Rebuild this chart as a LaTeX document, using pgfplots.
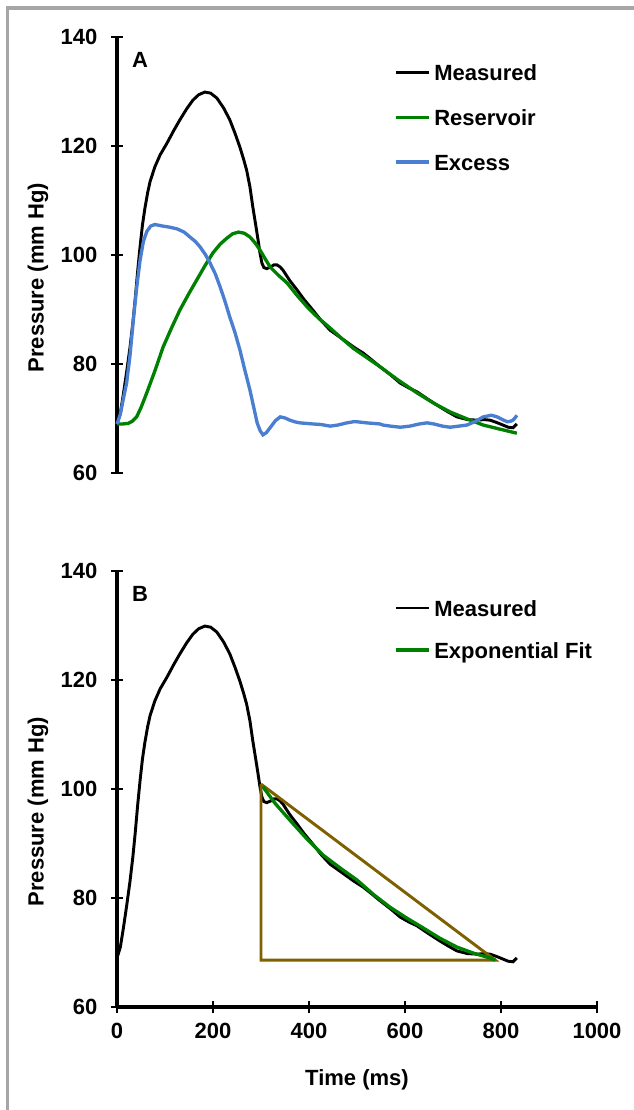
\documentclass[border=0pt]{standalone}
\usepackage{fontspec}
\setmainfont{Liberation Sans}
\usepackage{pgfplots}
\pgfplotsset{compat=1.18}
\definecolor{exgreen}{RGB}{0,128,0}
\definecolor{exblue}{RGB}{74,126,208}
\definecolor{tribrown}{RGB}{127,96,0}
\definecolor{framegray}{RGB}{166,166,166}

\pgfplotstableread{
t P
0 69
7 71
13 74.3
20 78.5
27 83
33 87.5
38 92
43 97
48 101.5
53 105.5
58 108.5
64 111.5
69 113.5
79 116.2
90 118.4
104 120.5
118 122.8
131 124.8
145 126.8
158 128.4
170 129.4
183 129.9
195 129.7
208 128.8
222 127
235 124.8
246 122.3
256 119.8
264 117.5
270 115.6
277 112.5
283 108.8
289 105.5
294 102.7
298 100.3
302 98.5
306 97.7
312 97.5
320 97.8
327 98.2
333 98.2
340 97.8
346 97.2
360 95.3
375 93.6
390 91.8
408 89.9
425 88
444 86.2
460 85.2
479 84
495 83
513 82
530 80.8
548 79.5
570 78
590 76.5
608 75.6
625 74.9
650 73.4
673 72.1
690 71.2
708 70.3
730 69.8
750 69.7
765 69.8
777 69.7
790 69.3
804 68.8
815 68.4
825 68.3
833 69
}\measured

\pgfplotstableread{
t P
0 69
12 69
23 69.1
32 69.5
41 70.3
50 72
62 74.7
80 79
96 83.1
113 86.5
131 89.9
149 92.8
166 95.4
183 98
200 100.4
215 102
229 103.1
241 103.9
253 104.2
265 104
277 103.3
288 102.2
298 100.9
308 99.4
319 97.8
336 96.3
354 94.9
375 92.6
396 90.5
420 88.4
444 86.6
468 84.7
492 82.9
520 81.2
548 79.5
585 77.1
625 74.7
660 72.8
694 71.2
730 69.9
763 68.8
800 68
833 67.3
}\reservoir

\pgfplotstableread{
t P
0 69
7 70.8
13 73.5
20 76.5
27 81.5
34 88
41 94
48 99
55 102.5
62 104.3
70 105.3
79 105.6
96 105.3
110 105.1
125 104.8
140 104.2
152 103.3
163 102.5
173 101.5
184 100.1
194 98.5
205 96.5
215 94.1
225 91.5
235 88.6
246 85.7
256 82.6
266 79
277 75.2
285 72
292 69.2
298 67.8
304 67
311 67.4
319 68.3
330 69.6
340 70.3
350 70.1
360 69.7
370 69.4
381 69.2
395 69.1
408 69
425 68.9
444 68.6
460 68.8
479 69.2
492 69.4
500 69.4
520 69.2
548 69
554 68.8
570 68.6
590 68.4
610 68.6
630 69
646 69.2
660 69
678 68.6
694 68.4
712 68.6
729 68.8
745 69.4
763 70.3
780 70.6
792 70.3
803 69.8
813 69.4
820 69.5
825 69.7
830 70.2
833 70.6
}\excess

\pgfplotstableread{
t P
304 100.4
330 97.3
360 94.3
395 90.9
429 87.9
465 85.5
500 83.3
535 80.6
569 78.3
604 76.3
638 74.5
673 72.6
708 71
742 69.9
777 69.0
788 68.6
}\expfit

\pgfplotstableread{
t P
300 100.9
300 68.6
788 68.6
300 100.9
}\triangle

\pgfplotsset{
 panel/.style={
  scale only axis, width=360pt, height=327pt,
  xmin=0,xmax=1000,ymin=60,ymax=140,
  ytick={60,80,...,140},
  every non boxed x axis/.append style={x axis line style={-}},
  every non boxed y axis/.append style={y axis line style={-}},
  major tick length=9pt,
  tick style={line width=2pt, black},
  axis line style={-, line width=2.5pt},
  font=\fontsize{16.5}{19}\selectfont\bfseries,
  tick label style={font=\fontsize{16.5}{19}\selectfont\bfseries},
  /pgf/number format/assume math mode=true,
  /pgf/number format/1000 sep={},
  yticklabel style={inner sep=0pt, anchor=east, xshift=-10pt},
  ylabel={Pressure (mm Hg)},
  every axis y label/.style={at={(rel axis cs:-0.1646,0.448)}, rotate=90, anchor=center},
  clip=false,
  legend image code/.code={\draw[##1] (0pt,2pt) -- (24.75pt,2pt);},
  legend cell align=left,
  legend style={draw=none, fill=none, inner sep=0pt, outer sep=0pt,
    nodes={inner sep=0pt, text height=12pt, text depth=4pt},
    /tikz/every odd column/.append style={column sep=3pt}},
 }
}

\begin{document}
\begin{tikzpicture}[x=0.75pt,y=-0.75pt]
\useasboundingbox (0,0) rectangle (634,1110);
\draw[framegray, line width=2.6pt] (7.5,1110) -- (7.5,8) -- (634,8);

\begin{axis}[panel, at={(87.75pt,-354.75pt)}, anchor=south west,
  axis x line=none, axis y line=left,
  legend style={at={(0.577,0.9365)}, anchor=north west, row sep=17.5pt}]
\addplot[black, line width=2.2pt, no marks] table[x=t,y=P]{\measured};
\addlegendentry{Measured}
\addplot[exgreen, line width=2.5pt, no marks] table[x=t,y=P]{\reservoir};
\addlegendentry{Reservoir}
\addplot[exblue, line width=2.5pt, no marks] table[x=t,y=P]{\excess};
\addlegendentry{Excess}
\node at (rel axis cs:0.048,0.947) {A};
\end{axis}

\begin{axis}[panel, at={(87.75pt,-755.25pt)}, anchor=south west,
  axis lines=left,
  xtick={0,200,...,1000},
  xticklabel style={inner sep=0pt, anchor=north, yshift=-7.5pt},
  xlabel={Time (ms)},
  every axis x label/.style={at={(rel axis cs:0.5,-0.1674)}, anchor=center},
  legend style={at={(0.577,0.9335)}, anchor=north west, row sep=15.5pt}]
\addplot[black, line width=2.2pt, no marks] table[x=t,y=P]{\measured};
\addlegendentry{Measured}
\addplot[tribrown, line width=2.2pt, no marks, forget plot] table[x=t,y=P]{\triangle};
\addplot[exgreen, line width=2.5pt, no marks] table[x=t,y=P]{\expfit};
\addlegendentry{Exponential Fit}
\node at (rel axis cs:0.048,0.947) {B};
\end{axis}
\end{tikzpicture}
\end{document}
